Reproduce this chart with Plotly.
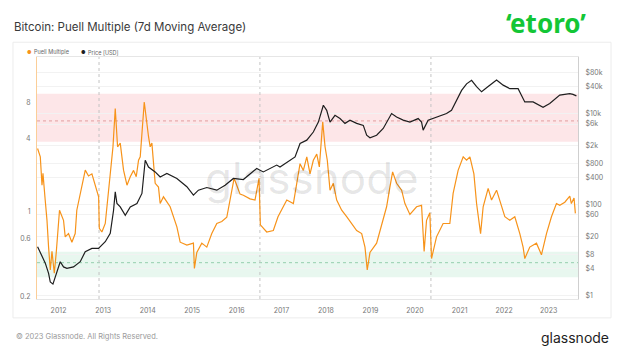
import datetime as dt
import plotly.graph_objects as go

# ---------------- data ----------------
# time in decimal years
puell_t = [2011.529, 2011.59, 2011.628, 2011.65, 2011.70, 2011.74, 2011.776, 2011.814, 2011.852, 2011.904,
           2011.948, 2012.022, 2012.112, 2012.15, 2012.224, 2012.30, 2012.374, 2012.41, 2012.60, 2012.673,
           2012.749, 2012.861, 2012.90, 2012.915, 2012.973, 2013.047, 2013.159, 2013.22, 2013.271, 2013.323,
           2013.383, 2013.457, 2013.534, 2013.608, 2013.682, 2013.742, 2013.794, 2013.832, 2013.922, 2013.982,
           2014.018, 2014.056, 2014.094, 2014.168, 2014.242, 2014.28, 2014.354, 2014.504, 2014.578, 2014.655,
           2014.729, 2014.879, 2015.027, 2015.049, 2015.103, 2015.215, 2015.327, 2015.439, 2015.552, 2015.664,
           2015.776, 2015.85, 2015.94, 2016.0, 2016.074, 2016.148, 2016.298, 2016.41, 2016.50, 2016.53,
           2016.673, 2016.821, 2016.926, 2017.121, 2017.269, 2017.419, 2017.493, 2017.57, 2017.643, 2017.717,
           2017.794, 2017.852, 2017.928, 2017.98, 2018.031, 2018.092, 2018.166, 2018.242, 2018.354, 2018.466,
           2018.578, 2018.69, 2018.803, 2018.877, 2018.928, 2018.989, 2019.139, 2019.287, 2019.363, 2019.437,
           2019.498, 2019.587, 2019.70, 2019.774, 2019.886, 2020.036, 2020.148, 2020.206, 2020.26, 2020.334,
           2020.372, 2020.484, 2020.632, 2020.783, 2020.857, 2020.969, 2021.081, 2021.157, 2021.231, 2021.321,
           2021.381, 2021.471, 2021.529, 2021.641, 2021.717, 2021.83, 2021.942, 2022.016, 2022.128, 2022.24,
           2022.352, 2022.426, 2022.464, 2022.576, 2022.726, 2022.838, 2022.951, 2023.063, 2023.175, 2023.25,
           2023.363, 2023.475, 2023.51, 2023.57, 2023.60]
puell_v = [3.34, 2.85, 1.66, 2.08, 1.25, 0.85, 0.51, 0.33, 0.47, 0.31,
           0.46, 1.03, 0.85, 0.62, 0.66, 0.56, 0.66, 1.03, 2.21, 1.98,
           2.06, 1.51, 1.33, 0.73, 0.68, 0.8, 2.08, 3.45, 7.15, 3.45,
           3.7, 2.21, 1.66, 1.95, 2.2, 1.95, 2.67, 2.85, 8.1, 5.0,
           4.2, 3.45, 3.7, 1.72, 1.6, 1.17, 1.33, 1.1, 0.9, 0.75,
           0.56, 0.53, 0.55, 0.34, 0.46, 0.55, 0.51, 0.66, 0.8, 0.83,
           0.9, 1.25, 1.89, 1.66, 1.4, 1.37, 1.28, 1.25, 1.89, 0.78,
           0.68, 0.7, 0.91, 1.25, 1.17, 2.5, 2.2, 2.85, 2.06, 2.67,
           3.0, 2.35, 5.55, 3.45, 2.67, 1.51, 1.72, 1.25, 1.03, 0.91,
           0.8, 0.7, 0.66, 0.51, 0.33, 0.46, 0.55, 0.85, 1.1, 1.6,
           2.14, 1.72, 1.51, 1.17, 0.95, 1.1, 1.13, 0.47, 0.85, 0.98,
           0.41, 0.62, 0.8, 0.8, 1.42, 2.2, 2.85, 2.67, 2.85, 2.06,
           1.17, 0.66, 1.1, 1.56, 1.25, 1.51, 1.1, 0.91, 0.85, 0.91,
           0.66, 0.51, 0.41, 0.51, 0.55, 0.44, 0.66, 0.91, 1.17, 1.13,
           1.2, 1.35, 1.17, 1.3, 0.97]

price_t = [2011.529, 2011.702, 2011.776, 2011.814, 2011.874, 2011.926, 2012.0, 2012.038, 2012.112, 2012.188,
           2012.336, 2012.487, 2012.599, 2012.749, 2012.897, 2013.047, 2013.159, 2013.233, 2013.271, 2013.309,
           2013.383, 2013.496, 2013.608, 2013.758, 2013.870, 2013.944, 2014.018, 2014.168, 2014.280, 2014.430,
           2014.655, 2014.879, 2015.027, 2015.139, 2015.327, 2015.552, 2015.738, 2015.924, 2016.148, 2016.448,
           2016.596, 2016.897, 2016.971, 2017.195, 2017.307, 2017.419, 2017.570, 2017.717, 2017.830, 2017.942,
           2018.018, 2018.092, 2018.204, 2018.316, 2018.428, 2018.540, 2018.691, 2018.839, 2018.915, 2018.989,
           2019.139, 2019.287, 2019.475, 2019.587, 2019.735, 2019.886, 2020.072, 2020.148, 2020.184, 2020.296,
           2020.484, 2020.709, 2020.821, 2020.933, 2021.045, 2021.157, 2021.269, 2021.381, 2021.493, 2021.641,
           2021.830, 2021.978, 2022.128, 2022.314, 2022.464, 2022.650, 2022.874, 2023.025, 2023.137, 2023.249,
           2023.361, 2023.473, 2023.547, 2023.623]
price_v = [12, 5.2, 3.1, 2.0, 1.8, 2.6, 4.7, 5.6, 4.3, 4.0,
           4.3, 5.6, 9.3, 11, 11, 15.4, 23.5, 76, 193, 107,
           90, 59, 90, 107, 178, 955, 680, 530, 410, 490,
           380, 250, 163, 210, 240, 210, 270, 380, 360, 630,
           530, 750, 680, 955, 1130, 2230, 2650, 4000, 6600, 15500,
           12000, 6600, 9300, 7900, 6200, 7300, 6200, 5600, 3400, 3000,
           3400, 4800, 10200, 8600, 7300, 6600, 7900, 6600, 4400, 7300,
           8600, 10200, 12000, 19800, 33000, 46000, 55000, 40000, 30700, 40000,
           56000, 43000, 36000, 36000, 18400, 18400, 14000, 17000, 21000, 26000,
           27000, 28000, 27000, 25000]

halvings = ["2012-11-28", "2016-07-09", "2020-05-11"]
year_ticks = ["2012", "2013", "2014", "2015", "2016", "2017", "2018", "2019", "2020", "2021", "2022", "2023"]
puell_ticks = [0.2, 0.6, 1, 4, 8]
puell_tick_text = ["0.2", "0.6", "1", "4", "8"]
price_ticks = [1, 4, 8, 20, 60, 100, 400, 800, 2000, 6000, 10000, 40000, 80000]
price_tick_text = ["$1", "$4", "$8", "$20", "$60", "$100", "$400", "$800", "$2k", "$6k", "$10k", "$40k", "$80k"]
red_zone = [3.8, 9.5, 5.65]      # low, high, dotted mid line (Puell units)
green_zone = [0.287, 0.467, 0.379]


def to_date(y):
    year = int(y)
    return dt.datetime(year, 1, 1) + dt.timedelta(days=(y - year) * 365.25)


ORANGE = "#f7931a"
BLACK = "#1e1e1e"
FONT = "Inter"

fig = go.Figure()
fig.add_trace(go.Scatter(x=[to_date(t) for t in puell_t], y=puell_v, mode="lines",
                         line=dict(color=ORANGE, width=1.2), name="Puell Multiple",
                         showlegend=False, yaxis="y"))
fig.add_trace(go.Scatter(x=[to_date(t) for t in price_t], y=price_v, mode="lines",
                         line=dict(color=BLACK, width=1.2), name="Price [USD]",
                         showlegend=False, yaxis="y2"))

shapes = []
# card border
shapes.append(dict(type="rect", xref="paper", yref="paper", x0=-0.0444, x1=1.061, y0=-0.078, y1=1.061,
                   line=dict(color="#ececec", width=1), fillcolor="rgba(0,0,0,0)", layer="below"))
# zones
shapes.append(dict(type="rect", xref="paper", yref="y", x0=0, x1=1, y0=red_zone[0], y1=red_zone[1],
                   fillcolor="rgba(240,90,100,0.15)", line=dict(width=0), layer="below"))
shapes.append(dict(type="line", xref="paper", yref="y", x0=0, x1=1, y0=red_zone[2], y1=red_zone[2],
                   line=dict(color="rgba(200,90,90,0.5)", width=1, dash="dot"), layer="below"))
shapes.append(dict(type="rect", xref="paper", yref="y", x0=0, x1=1, y0=green_zone[0], y1=green_zone[1],
                   fillcolor="rgba(80,190,130,0.13)", line=dict(width=0), layer="below"))
shapes.append(dict(type="line", xref="paper", yref="y", x0=0, x1=1, y0=green_zone[2], y1=green_zone[2],
                   line=dict(color="rgba(70,170,110,0.5)", width=1, dash="dot"), layer="below"))
for h in halvings:
    shapes.append(dict(type="line", xref="x", yref="paper", x0=h, x1=h, y0=0, y1=1,
                       line=dict(color="#c4c4c4", width=1, dash="dot"), layer="below"))

annotations = [
    dict(text="Bitcoin: Puell Multiple (7d Moving Average)", xref="paper", yref="paper", x=-0.0462, y=1.1226,
         xanchor="left", yanchor="middle", showarrow=False, font=dict(family=FONT, size=11.5, color="#3a3a3a")),
    dict(text="<b>‘etoro’</b>", xref="paper", yref="paper", x=0.941, y=1.14,
         xanchor="center", yanchor="middle", showarrow=False,
         font=dict(family="Noto Sans", size=26, color="#13c636")),
    dict(text="●", xref="paper", yref="paper", x=(29 - 37) / 541, y=1.0206, xanchor="center", yanchor="middle",
         showarrow=False, font=dict(family=FONT, size=5, color=ORANGE)),
    dict(text="Puell Multiple", xref="paper", yref="paper", x=(32 - 37) / 541, y=1.0206, xanchor="left",
         yanchor="middle", showarrow=False, font=dict(family=FONT, size=5.5, color="#666")),
    dict(text="●", xref="paper", yref="paper", x=(83 - 37) / 541, y=1.0206, xanchor="center", yanchor="middle",
         showarrow=False, font=dict(family=FONT, size=5, color=BLACK)),
    dict(text="Price [USD]", xref="paper", yref="paper", x=(86 - 37) / 541, y=1.0206, xanchor="left",
         yanchor="middle", showarrow=False, font=dict(family=FONT, size=5.5, color="#666")),
    dict(text="glassnode", xref="paper", yref="paper", x=0.508, y=0.50, xanchor="center", yanchor="middle",
         showarrow=False, font=dict(family=FONT, size=44, color="rgba(0,0,0,0.1)")),
    dict(text="© 2023 Glassnode. All Rights Reserved.", xref="paper", yref="paper", x=(14 - 37) / 541,
         y=-0.157, xanchor="left", yanchor="middle", showarrow=False,
         font=dict(family=FONT, size=7.5, color="#9a9a9a")),
    dict(text="glassnode", xref="paper", yref="paper", x=1.061, y=-0.161, xanchor="right", yanchor="middle",
         showarrow=False, font=dict(family=FONT, size=14, color="#1e1e1e")),
]

fig.update_layout(
    width=624, height=351,
    margin=dict(l=37, r=46, t=57, b=52),
    paper_bgcolor="white", plot_bgcolor="white",
    showlegend=False,
    shapes=shapes, annotations=annotations,
    xaxis=dict(type="date", range=[to_date(2011.516), to_date(2023.659)],
               tickvals=[y + "-01-01" for y in year_ticks], ticktext=year_ticks,
               showgrid=False, zeroline=False, showline=True, linecolor="#e6e6e6", mirror=True,
               ticks="outside", ticklen=5, tickcolor="rgba(0,0,0,0)",
               tickfont=dict(family=FONT, size=7, color="#777")),
    yaxis=dict(type="log", range=[-0.722, 1.281], tickvals=puell_ticks, ticktext=puell_tick_text,
               showgrid=False, zeroline=False, showline=True, linecolor="rgba(247,147,26,0.45)",
               ticks="outside", ticklen=4, tickcolor="rgba(0,0,0,0)",
               tickfont=dict(family=FONT, size=7, color="#777")),
    yaxis2=dict(type="log", range=[-0.0725, 5.253], tickvals=price_ticks, ticktext=price_tick_text,
                overlaying="y", side="right", showgrid=True, gridcolor="#f2f2f2", gridwidth=1,
                zeroline=False, showline=True, linecolor="#cfcfcf",
                ticks="outside", ticklen=5, tickcolor="rgba(0,0,0,0)",
                tickfont=dict(family=FONT, size=7, color="#777")),
)

fig.write_html("out.html", config={"displayModeBar": False})
